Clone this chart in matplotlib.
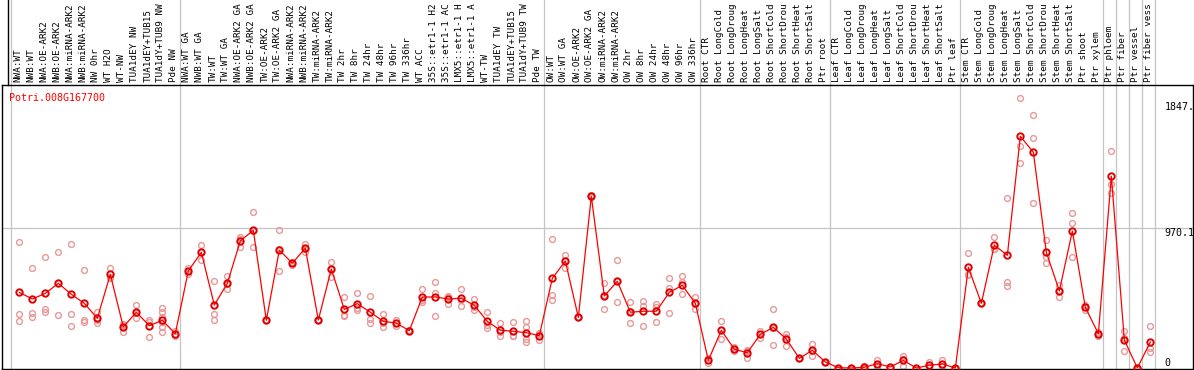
import matplotlib

matplotlib.use("Agg")
import matplotlib.pyplot as plt
from matplotlib.lines import Line2D

gene_id = "Potri.008G167700"

# sample names as far as they show in the header strip
samples = [
    # wood / tension wood series
    "NWA:WT", "NWB:WT", "NWA:OE-ARK2", "NWB:OE-ARK2", "NWA:miRNA-ARK2", "NWB:miRNA-ARK2",
    "NW 0hr", "WT H2O", "WT-NW", "TUA1dEY NW", "TUA1dEY+TUB15", "TUA1dY+TUB9 NW", "Pde NW",
    "NWA:WT GA", "NWB:WT GA", "TW:WT", "TW:WT GA", "NWA:OE-ARK2 GA", "NWB:OE-ARK2 GA",
    "TW:OE-ARK2", "TW:OE-ARK2 GA", "NWA:miRNA-ARK2", "NWB:miRNA-ARK2", "TW:miRNA-ARK2",
    "TW:miRNA-ARK2", "TW 2hr", "TW 8hr", "TW 24hr", "TW 48hr", "TW 96hr", "TW 336hr", "WT ACC",
    "35S::etr1-1 H2", "35S::etr1-1 AC", "LMX5::etr1-1 H", "LMX5::etr1-1 A", "WT-TW",
    "TUA1dEY TW", "TUA1dEY+TUB15", "TUA1dY+TUB9 TW", "Pde TW",
    "OW:WT", "OW:WT GA", "OW:OE-ARK2", "OW:OE-ARK2 GA", "OW:miRNA-ARK2", "OW:miRNA-ARK2",
    "OW 2hr", "OW 8hr", "OW 24hr", "OW 48hr", "OW 96hr", "OW 336hr",
    # stress series
    "Root CTR", "Root LongCold", "Root LongDroug", "Root LongHeat", "Root LongSalt",
    "Root ShortCold", "Root ShortDrou", "Root ShortHeat", "Root ShortSalt", "Ptr root",
    "Leaf CTR", "Leaf LongCold", "Leaf LongDroug", "Leaf LongHeat", "Leaf LongSalt",
    "Leaf ShortCold", "Leaf ShortDrou", "Leaf ShortHeat", "Leaf ShortSalt", "Ptr leaf",
    "Stem CTR", "Stem LongCold", "Stem LongDroug", "Stem LongHeat", "Stem LongSalt",
    "Stem ShortCold", "Stem ShortDrou", "Stem ShortHeat", "Stem ShortSalt", "Ptr shoot",
    "Ptr xylem", "Ptr phloem", "Ptr fiber", "Ptr vessel", "Ptr fiber vess",
]

# index of the first sample of each block (last entry = end)
group_starts = [0, 13, 41, 53, 63, 73, 84, 85, 86, 87, 88]

mean_expr = [
    525, 479, 518, 588, 512, 449, 345, 650, 285, 387, 294, 331, 238,
    674, 803, 437, 588, 882, 956, 331, 819, 727, 833, 333, 687, 407, 447, 387,
    324, 312, 259, 493, 493, 479, 484, 435, 324, 262, 255, 245, 225,
    623, 743, 352, 1192, 500, 602, 387, 394, 394, 525, 574, 449,
    53, 262, 130, 106, 234, 282, 201, 67, 123, 42,
    2, 0, 5, 30, 7, 53, 0, 19, 28, 0,
    699, 449, 854, 782, 1609, 1498, 803, 535, 951, 421, 238,
    1331, 194, 0, 181,
]

replicates = [
    [873, 375, 324], [694, 384, 352], [771, 407, 391], [806, 368, 590], [861, 373, 292],
    [678, 336, 322], [391, 331, 312], [694, 627, 630], [306, 248, 300], [437, 345, 380],
    [331, 218, 317], [419, 391, 356, 322, 287, 252], [257, 225, 232],
    [694, 655, 674], [854, 752, 803], [604, 375, 331], [639, 546, 580], [912, 840, 895],
    [1081, 838, 950], [331, 331, 331], [958, 674, 825], [727, 738, 716], [863, 808, 828],
    [333, 333, 333], [736, 634, 690], [493, 368, 360], [518, 403, 420], [500, 338, 315],
    [373, 287, 312], [333, 289, 314], [259, 262, 256], [549, 456, 474], [595, 361, 523],
    [500, 447, 490], [549, 431, 472], [477, 403, 425], [391, 280, 301], [312, 225, 249],
    [317, 225, 223], [324, 282, 183, 199], [236, 194, 245],
    [896, 507, 474], [785, 697, 747], [352, 352, 352], [1192, 1185, 1199], [588, 407, 505],
    [748, 456, 602], [456, 310, 395], [465, 433, 289], [444, 426, 317], [623, 558, 384],
    [637, 600, 512], [493, 407, 447],
    [72, 35, 53], [324, 199, 262], [144, 120, 130], [120, 72, 126], [259, 206, 237],
    [410, 160, 276], [236, 153, 214], [67, 67, 67], [167, 83, 119], [42, 42, 42],
    [2, 2, 2], [0, 0, 0], [16, 0, 0], [58, 5, 27], [7, 7, 7],
    [86, 14, 59], [0, 0, 0], [44, 5, 8], [58, 12, 14], [0, 0, 0],
    [799, 650, 648], [449, 449, 449], [907, 826, 829], [1178, 595, 569], [1873, 1542, 1421],
    [1755, 1595, 1143], [889, 771, 731], [574, 491, 540], [1074, 1007, 773], [437, 421, 405],
    [225, 238, 251],
    [1505, 1278, 1218], [257, 118, 207], [0, 0, 0], [292, 113, 138],
]

y_ticks = [0, 970.1, 1847.3]
y_tick_labels = ["0", "970.1", "1847."]

W, H = 1194, 370
fig = plt.figure(figsize=(W / 100, H / 100), dpi=100)
# axes frame spans pixels x 1.7..1193, y 85..369
ax = fig.add_axes([1.7 / W, 1 / H, (1193 - 1.7) / W, (369 - 85) / H])
ax.set_xlim(-1.354, 90.28)
ax.set_ylim(-7, 1965)
ax.set_xticks([])
ax.set_yticks([])
for spine in ax.spines.values():
    spine.set_linewidth(1.0)
    spine.set_color("black")

grid_color = "#c4c4c4"
label_shift = -0.12
for start in group_starts:
    ax.axvline(start - 0.62, color=grid_color, linewidth=0.9, zorder=1, clip_on=False,
               ymin=0, ymax=1 + 85 / 284)
ax.axhline(970.1, color=grid_color, linewidth=0.9, zorder=1)

xs = list(range(len(samples)))
for x, reps in zip(xs, replicates):
    ax.plot([x] * len(reps), reps, "o", markersize=4.2, markerfacecolor="none",
            markeredgecolor="#e99898", markeredgewidth=1.0, zorder=2)

ax.plot(xs, mean_expr, "-", color="red", linewidth=0.9, zorder=3)
ax.plot(xs, mean_expr, "o", markersize=4.6, markerfacecolor="none",
        markeredgecolor="#e00000", markeredgewidth=1.4, zorder=4)

# sample names in the header strip
for x, name in zip(xs, samples):
    ax.text(x + label_shift, 1 + 3 / 284, name, transform=ax.get_xaxis_transform(),
            rotation=90, ha="center", va="bottom", fontsize=6.7,
            family="DejaVu Sans Mono", clip_on=False)

for val, lab in zip(y_ticks, y_tick_labels):
    ax.text(88.1, val, lab, ha="left", va="bottom" if val == 0 else "top",
            fontsize=7.2, family="DejaVu Sans Mono", clip_on=False)

ax.text(0.0065, 0.955, gene_id, transform=ax.transAxes, ha="left", va="center",
        fontsize=7.2, family="DejaVu Sans Mono", color="red")

fig.add_artist(Line2D([8 / W, 8 / W], [(370 - 85) / H, 1.0], color="black", linewidth=1.0))

fig.savefig("out.png", dpi=100)
